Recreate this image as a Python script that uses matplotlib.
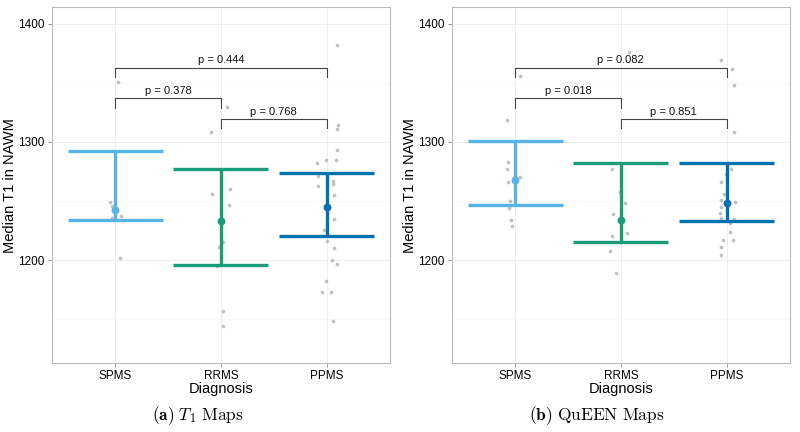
import numpy as np
import matplotlib
matplotlib.use("Agg")
import matplotlib.pyplot as plt

plt.rcParams['font.family'] = ['Liberation Sans', 'DejaVu Sans']
plt.rcParams['mathtext.fontset'] = 'cm'

groups = ["SPMS", "RRMS", "PPMS"]
colors = ["#56B4E9", "#1B9E77", "#0072B2"]

# T1 maps: individual subjects (value, jitter)
t1_spms = [1351, 1249, 1246, 1237, 1236, 1202]
t1_spms_jit = [0.03, -0.05, -0.03, 0.06, -0.03, 0.05]
t1_rrms = [1330, 1308, 1260, 1256, 1247, 1215, 1211, 1195, 1157, 1144]
t1_rrms_jit = [0.06, -0.09, 0.09, -0.08, 0.08, 0.02, -0.02, -0.04, 0.02, 0.02]
t1_ppms = [1382, 1314, 1311, 1293, 1285, 1285, 1282, 1271, 1267, 1264, 1263,
           1255, 1235, 1225, 1216, 1210, 1200, 1197, 1182, 1173, 1173, 1148]
t1_ppms_jit = [0.10, 0.11, 0.10, 0.10, -0.01, 0.09, -0.09, -0.08, 0.06, 0.06, -0.08,
               0.07, 0.07, -0.02, 0.00, 0.07, 0.05, 0.10, -0.01, -0.04, 0.04, 0.06]
t1_mid = [1242, 1233, 1245]
t1_low = [1234, 1196, 1220]
t1_high = [1292, 1277, 1274]
t1_p = ["p = 0.444", "p = 0.378", "p = 0.768"]

# QuEEN maps
q_spms = [1356, 1319, 1283, 1277, 1270, 1266, 1250, 1244, 1234, 1229]
q_spms_jit = [0.05, -0.08, -0.07, -0.08, 0.05, -0.07, -0.05, -0.06, -0.04, -0.03]
q_rrms = [1376, 1277, 1258, 1248, 1239, 1223, 1220, 1208, 1189]
q_rrms_jit = [0.08, -0.08, -0.01, 0.04, -0.07, 0.06, -0.08, -0.10, -0.05]
q_ppms = [1369, 1362, 1348, 1308, 1277, 1273, 1266, 1256, 1251, 1249, 1245, 1240,
          1236, 1235, 1231, 1224, 1217, 1217, 1211, 1204]
q_ppms_jit = [-0.05, 0.05, 0.07, 0.07, 0.04, -0.01, -0.05, -0.02, -0.05, 0.08, -0.05, -0.06,
              -0.05, 0.07, 0.03, 0.03, -0.03, 0.06, -0.05, -0.05]
q_mid = [1268, 1234, 1248]
q_low = [1247, 1215, 1233]
q_high = [1301, 1282, 1282]
q_p = ["p = 0.082", "p = 0.018", "p = 0.851"]

# brackets: (from, to, y)
brackets = [(1, 3, 1363), (1, 2, 1337), (2, 3, 1319.5)]


def panel(ax, pts, jits, mid, low, high, ptxt):
    for i, (v, j) in enumerate(zip(pts, jits)):
        x = i + 1 + np.array(j)
        ax.scatter(x, v, s=7, color="#999999", alpha=0.6, lw=0, zorder=2)
    for i in range(3):
        c = colors[i]
        ax.plot([i + 1, i + 1], [low[i], high[i]], color=c, lw=2.4, zorder=3,
                solid_capstyle='butt')
        ax.plot([i + 0.55, i + 1.45], [low[i], low[i]], color=c, lw=2.4, zorder=3,
                solid_capstyle='butt')
        ax.plot([i + 0.55, i + 1.45], [high[i], high[i]], color=c, lw=2.4, zorder=3,
                solid_capstyle='butt')
        ax.scatter([i + 1], [mid[i]], s=32, color=c, zorder=4, lw=0)
    for (a, b, y), t in zip(brackets, ptxt):
        ax.plot([a, a, b, b], [y - 8, y, y, y - 8], color="#444444", lw=0.8, zorder=3)
        ax.text((a + b) / 2, y + 3.5, t, ha='center', va='baseline', fontsize=8,
                color="#111111")
    ax.set_xlim(0.4, 3.6)
    ax.set_ylim(1112.5, 1414)
    ax.set_xticks([1, 2, 3])
    ax.set_xticklabels(groups)
    ax.set_yticks([1200, 1300, 1400])
    ax.set_yticks([1150, 1250, 1350], minor=True)
    ax.grid(True, which='major', color="#ebebeb", lw=0.6, zorder=0)
    ax.grid(True, which='minor', axis='y', color="#f5f5f5", lw=0.5, zorder=0)
    ax.set_axisbelow(True)
    ax.tick_params(axis='both', which='major', labelsize=8.5, length=3,
                   color="#888888", width=0.6, pad=2)
    ax.tick_params(axis='both', which='minor', length=0)
    for s in ax.spines.values():
        s.set_color("#bbbbbb")
        s.set_linewidth(0.8)
    ax.set_xlabel("Diagnosis", fontsize=10.5, labelpad=0)
    ax.set_ylabel("Median T1 in NAWM", fontsize=10.5, labelpad=1)


fig = plt.figure(figsize=(8, 4.32), dpi=100)
ax1 = fig.add_axes([0.0646, 0.159, 0.4229, 0.824])
ax2 = fig.add_axes([0.5646, 0.159, 0.4229, 0.824])

panel(ax1, [t1_spms, t1_rrms, t1_ppms], [t1_spms_jit, t1_rrms_jit, t1_ppms_jit],
      t1_mid, t1_low, t1_high, t1_p)
panel(ax2, [q_spms, q_rrms, q_ppms], [q_spms_jit, q_rrms_jit, q_ppms_jit],
      q_mid, q_low, q_high, q_p)

fig.text(0.2475, 0.037, r"$\mathbf{(a)}\ T_1\ \mathrm{Maps}$", ha='center', va='center',
         fontsize=12.5)
fig.text(0.746, 0.037, r"$\mathbf{(b)}\ \mathrm{QuEEN\ Maps}$", ha='center', va='center',
         fontsize=12.5)

fig.savefig("out.png", dpi=100)
